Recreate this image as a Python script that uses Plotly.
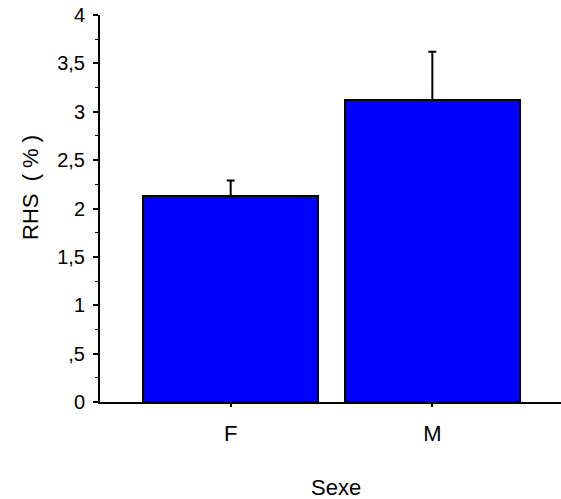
import plotly.graph_objects as go

# Mean RHS (%) by sex, with upper error bars
categories = ["F", "M"]
rhs_mean = [2.125, 3.12]
rhs_err = [0.165, 0.50]

y_tickvals = [0, 0.5, 1, 1.5, 2, 2.5, 3, 3.5, 4]
y_ticktext = ["0", ",5", "1", "1,5", "2", "2,5", "3", "3,5", "4"]

FONT = "Liberation Sans Narrow, Arial Narrow, Liberation Sans, Arial, sans-serif"

fig = go.Figure()
fig.add_trace(go.Bar(
    x=categories,
    y=rhs_mean,
    width=0.87,
    marker=dict(color="#0000FF", line=dict(color="black", width=2)),
    error_y=dict(type="data", array=rhs_err, arrayminus=[0, 0], symmetric=False,
                 color="black", thickness=2, width=4),
))

W, H = 561, 499
L, R, T, B = 100, 0, 15, 97

fig.update_layout(
    width=W, height=H,
    margin=dict(l=L, r=R, t=T, b=B, pad=0),
    paper_bgcolor="white", plot_bgcolor="white",
    showlegend=False,
    font=dict(family=FONT, color="black"),
    bargap=0,
    xaxis=dict(
        range=[-0.648, 1.638],
        showline=True, linecolor="black", linewidth=2,
        ticks="outside", ticklen=3, tickwidth=1.5, tickcolor="black",
        tickfont=dict(size=22, family=FONT),
        ticklabelstandoff=8,
        showgrid=False, zeroline=False, fixedrange=True,
    ),
    yaxis=dict(
        range=[0, 4],
        tickvals=y_tickvals, ticktext=y_ticktext,
        showline=True, linecolor="black", linewidth=2,
        ticks="outside", ticklen=5, tickwidth=1.5, tickcolor="black",
        tickfont=dict(size=20, family=FONT),
        ticklabelstandoff=4,
        minor=dict(dtick=0.25, ticks="outside", ticklen=3, tickwidth=1, tickcolor="black"),
        showgrid=False, zeroline=False, fixedrange=True,
    ),
    annotations=[
        dict(text="Sexe", xref="paper", yref="paper",
             x=(336 - L) / (W - L - R), y=-(487 - (H - B)) / (H - T - B),
             xanchor="center", yanchor="middle", showarrow=False,
             font=dict(size=22, family=FONT)),
        dict(text="RHS  ( % )", xref="paper", yref="paper",
             x=-(L - 30) / (W - L - R), y=((H - B) - 188) / (H - T - B),
             xanchor="center", yanchor="middle", showarrow=False, textangle=-90,
             font=dict(size=22, family=FONT)),
    ],
)

fig.write_html("out.html")
